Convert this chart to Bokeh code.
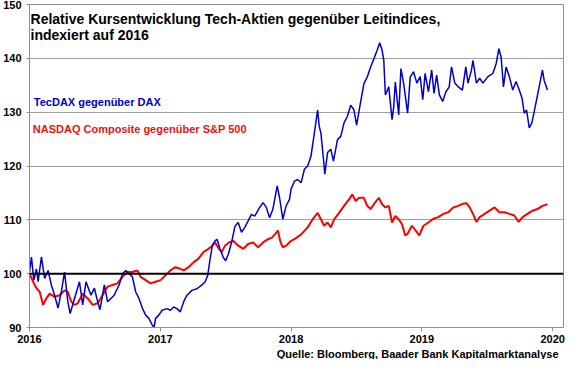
from bokeh.plotting import figure
from bokeh.models import Span, Label, FixedTicker, Title
from bokeh.embed import file_html
from bokeh.resources import INLINE

# ---- data (decimal years, index values) ----
blue_t = [2016.000, 2016.015, 2016.033, 2016.053, 2016.066, 2016.091, 2016.116, 2016.142, 2016.167,
          2016.192, 2016.218, 2016.243, 2016.268, 2016.293, 2016.311, 2016.344, 2016.382, 2016.407,
          2016.432, 2016.470, 2016.496, 2016.521, 2016.539, 2016.572, 2016.597, 2016.622, 2016.647,
          2016.685, 2016.711, 2016.736, 2016.761, 2016.787, 2016.812, 2016.837, 2016.863, 2016.888,
          2016.913, 2016.938, 2016.952, 2016.964, 2016.989,
          2017.014, 2017.052, 2017.077, 2017.103, 2017.128, 2017.153, 2017.179, 2017.204, 2017.242,
          2017.280, 2017.318, 2017.343, 2017.363, 2017.381, 2017.399, 2017.419, 2017.434, 2017.457,
          2017.482, 2017.500, 2017.520, 2017.545, 2017.571, 2017.596, 2017.621, 2017.646, 2017.672,
          2017.697, 2017.722, 2017.760, 2017.786, 2017.811, 2017.836, 2017.861, 2017.894, 2017.912,
          2017.937, 2017.962, 2017.988,
          2018.000, 2018.026, 2018.051, 2018.077, 2018.102, 2018.127, 2018.152, 2018.178, 2018.203,
          2018.215, 2018.228, 2018.248, 2018.258, 2018.279, 2018.304, 2018.324, 2018.355, 2018.380,
          2018.405, 2018.430, 2018.456, 2018.481, 2018.501, 2018.532, 2018.557, 2018.582, 2018.608,
          2018.633, 2018.658, 2018.678, 2018.696, 2018.709, 2018.721, 2018.747, 2018.772, 2018.785,
          2018.797, 2018.823, 2018.840, 2018.861, 2018.891, 2018.911,
          2018.936, 2018.962, 2018.987, 2019.007, 2019.025, 2019.050, 2019.075, 2019.093, 2019.113,
          2019.134, 2019.159, 2019.184, 2019.209, 2019.227, 2019.252, 2019.278, 2019.310, 2019.336,
          2019.353, 2019.379, 2019.391, 2019.417, 2019.442, 2019.467, 2019.505, 2019.543, 2019.568,
          2019.589, 2019.606, 2019.624, 2019.644, 2019.669, 2019.695, 2019.720, 2019.745, 2019.766,
          2019.783, 2019.801, 2019.821, 2019.841, 2019.859, 2019.877, 2019.897, 2019.922, 2019.935,
          2019.948, 2019.960]
blue_v = [100.3, 103.1, 98.8, 100.9, 98.5, 103.1, 99.1, 100.6, 97.9,
          96.0, 93.6, 96.6, 100.3, 94.8, 92.6, 95.4, 98.5, 94.2,
          98.5, 96.0, 97.3, 94.8, 93.3, 97.9, 94.8, 95.4, 96.0,
          97.9, 100.0, 100.6, 100.0, 99.4, 96.6, 95.4, 93.6, 92.3,
          91.7, 90.5, 90.0, 91.7, 92.3,
          93.2, 93.5, 93.2, 93.8, 93.5, 92.9, 94.8, 96.0, 96.9,
          97.2, 97.9, 98.5, 99.7, 102.8, 105.3, 106.1, 106.4, 104.6,
          103.0, 102.4, 103.6, 105.8, 108.8, 109.5, 107.7, 108.6, 109.8,
          111.0, 110.7, 112.3, 113.2, 112.3, 110.4, 112.0, 116.3, 114.1,
          110.1, 112.6, 113.8,
          115.7, 117.2, 117.5, 116.9, 119.4, 120.0, 121.8, 126.1, 130.4,
          127.4, 126.1, 121.2, 118.5, 122.5, 123.1, 120.9, 124.9, 125.5,
          128.0, 129.2, 131.3, 130.4, 127.6, 131.9, 135.3, 136.5, 138.4,
          139.9, 141.5, 142.9, 141.5, 139.6, 133.2, 134.7, 128.6, 131.0,
          135.6, 129.5, 138.1, 135.3, 129.8, 136.5,
          137.5, 135.4, 136.6, 132.3, 137.2, 133.8, 137.8, 133.5, 136.9,
          133.2, 132.0, 133.8, 134.7, 138.4, 135.4, 134.7, 134.1, 138.4,
          135.4, 137.8, 139.6, 135.4, 136.3, 135.4, 136.6, 137.2, 139.0,
          141.8, 140.2, 134.7, 138.4, 136.6, 134.1, 135.7, 134.1, 132.6,
          129.8, 130.4, 127.1, 128.0, 130.1, 132.3, 134.7, 137.8, 135.9,
          135.0, 134.1]

red_t = [2016.000, 2016.028, 2016.053, 2016.078, 2016.104, 2016.129, 2016.154, 2016.192, 2016.230,
         2016.268, 2016.293, 2016.319, 2016.344, 2016.369, 2016.407, 2016.445, 2016.483, 2016.521,
         2016.559, 2016.597, 2016.635, 2016.673, 2016.711, 2016.749, 2016.787, 2016.825, 2016.850,
         2016.888, 2016.926, 2016.964,
         2017.002, 2017.040, 2017.077, 2017.115, 2017.153, 2017.179, 2017.216, 2017.254, 2017.292,
         2017.330, 2017.368, 2017.399, 2017.419, 2017.449, 2017.470, 2017.495, 2017.525, 2017.558,
         2017.596, 2017.634, 2017.672, 2017.710, 2017.748, 2017.786, 2017.824, 2017.854, 2017.879,
         2017.899, 2017.920, 2017.937, 2017.962,
         2018.000, 2018.026, 2018.077, 2018.127, 2018.165, 2018.203, 2018.228, 2018.253, 2018.279,
         2018.304, 2018.329, 2018.367, 2018.405, 2018.443, 2018.468, 2018.494, 2018.519, 2018.557,
         2018.582, 2018.608, 2018.633, 2018.671, 2018.696, 2018.721, 2018.747, 2018.772, 2018.797,
         2018.823, 2018.848, 2018.873, 2018.891, 2018.924,
         2018.962, 2018.980, 2019.012, 2019.050, 2019.088, 2019.126, 2019.164, 2019.202, 2019.240,
         2019.278, 2019.315, 2019.341, 2019.366, 2019.391, 2019.417, 2019.442, 2019.480, 2019.518,
         2019.556, 2019.593, 2019.631, 2019.669, 2019.707, 2019.740, 2019.770, 2019.808, 2019.846,
         2019.884, 2019.922, 2019.960]
red_v = [100.0, 98.5, 97.3, 96.6, 94.2, 95.4, 96.3, 95.7, 96.0,
         96.9, 96.6, 94.8, 94.2, 94.5, 96.3, 95.4, 94.2, 94.5,
         96.0, 97.6, 97.9, 98.2, 99.4, 100.3, 100.3, 100.6, 99.4,
         98.8, 98.2, 98.5,
         98.8, 99.7, 100.6, 101.2, 100.9, 100.6, 101.2, 102.1, 102.8,
         104.0, 104.6, 105.2, 105.8, 104.6, 104.0, 105.2, 105.8, 106.1,
         105.2, 104.6, 105.5, 105.8, 104.9, 105.8, 106.4, 106.7, 107.4,
         108.0, 105.8, 104.9, 105.2,
         106.1, 106.4, 107.3, 108.6, 110.1, 111.3, 110.1, 108.9, 109.5,
         108.6, 110.1, 111.3, 112.6, 113.8, 114.7, 113.5, 114.1, 114.1,
         112.6, 112.0, 112.9, 114.1, 112.9, 112.3, 112.6, 109.5, 110.7,
         110.1, 109.2, 107.1, 107.4, 108.9,
         107.7, 107.1, 108.9, 109.5, 110.2, 110.5, 111.1, 111.4, 112.3,
         112.6, 113.0, 113.1, 112.3, 111.1, 109.6, 110.5, 111.1, 111.7,
         112.3, 111.4, 111.4, 111.1, 110.8, 109.6, 110.5, 111.1, 111.7,
         112.0, 112.6, 112.9]

year_ticks = [2016, 2017, 2018, 2019, 2020]
y_ticks = [90, 100, 110, 120, 130, 140, 150]

FONT = "Liberation Sans"
BLUE = "#0000CC"
RED = "#FF0000"
GRAY = "#A0A0A0"

p = figure(width=570, height=359, x_range=(2016, 2020.083), y_range=(90, 150),
           output_backend="svg", toolbar_location=None,
           min_border_left=26, min_border_right=7, min_border_top=4, min_border_bottom=0)
p.background_fill_color = "white"
p.border_fill_color = "white"
p.outline_line_color = "#909090"
p.outline_line_width = 1

p.xgrid.grid_line_color = None
p.ygrid.grid_line_color = GRAY
p.ygrid.grid_line_width = 1

for ax in (p.xaxis, p.yaxis):
    ax.axis_line_color = "#909090"
    ax.major_tick_line_color = "#909090"
    ax.minor_tick_line_color = None
    ax.major_tick_in = 0
    ax.major_label_text_font = FONT
    ax.major_label_text_font_style = "bold"
    ax.major_label_text_font_size = "11px"
    ax.major_label_text_color = "black"

p.xaxis.ticker = FixedTicker(ticks=year_ticks)
p.xaxis.major_label_overrides = {y: str(y) for y in year_ticks}
p.xaxis.major_tick_out = 4
p.xaxis.major_label_standoff = 3
p.yaxis.ticker = FixedTicker(ticks=y_ticks)
p.yaxis.major_tick_out = 3
p.yaxis.major_label_standoff = 5

p.line(red_t, red_v, line_color=RED, line_width=2)
p.line(blue_t, blue_v, line_color=BLUE, line_width=1.5)

p.add_layout(Span(location=100, dimension="width", line_color="black", line_width=2))

def lab(x, y, text, size, color, align="left"):
    p.add_layout(Label(x=x, y=y, text=text, text_font=FONT, text_font_style="bold",
                       text_font_size=size, text_color=color, text_align=align,
                       text_baseline="alphabetic"))

lab(2016.008, 147.29, "Relative Kursentwicklung Tech-Aktien gegenüber Leitindices,", "14px", "black")
lab(2016.008, 144.41, "indexiert auf 2016", "14px", "black")
lab(2016.033, 131.91, "TecDAX gegenüber DAX", "11px", BLUE)
lab(2016.025, 126.80, "NASDAQ Composite gegenüber S&P 500", "11px", "#EE1111")

p.add_layout(Title(text="Quelle: Bloomberg, Baader Bank Kapitalmarktanalyse", align="right",
                   text_font=FONT, text_font_style="bold", text_font_size="11px",
                   text_color="black", standoff=0, offset=5), "below")

open("out.html", "w").write(file_html(p, INLINE))
